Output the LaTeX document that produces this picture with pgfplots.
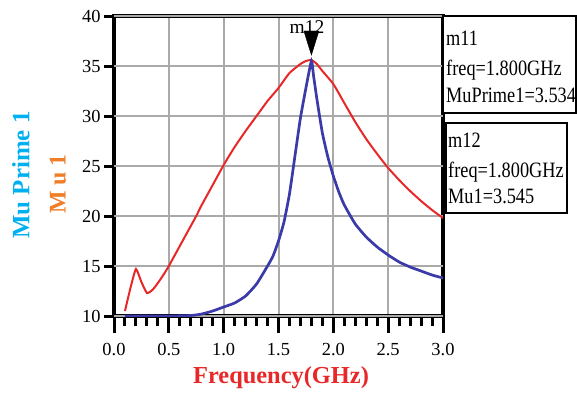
\documentclass[border=0pt]{standalone}
\usepackage{pgfplots}
\pgfplotsset{compat=1.18}
\usepackage{fontspec}
\setmainfont{Liberation Serif}
\usepackage{graphicx}
\definecolor{cRed}{RGB}{232,40,40}
\definecolor{cBlue}{RGB}{58,58,168}
\definecolor{cCyan}{RGB}{0,176,240}
\definecolor{cOrange}{RGB}{240,125,40}
\definecolor{cGrid}{RGB}{170,170,170}
\begin{document}
\begin{tikzpicture}[x=1bp,y=1bp]
\useasboundingbox (-114,-77) rectangle (463,316);
\begin{axis}[
  at={(0,0)}, anchor=south west,
  scale only axis, width=329bp, height=300bp,
  xmin=0, xmax=3, ymin=10, ymax=40,
  xtick={0,0.5,...,3}, minor x tick num=4,
  ytick=\empty,
  extra y ticks={10,15,20,25,30,35,40},
  extra y tick style={grid=major, major tick length=10bp},
  grid=major, major grid style={cGrid, line width=2bp},
  axis line style={black, line width=3.2bp},
  tick align=outside, tick pos=left,
  major tick length=17bp, minor tick length=10bp,
  every tick/.style={black, line width=3bp},
  /pgf/number format/assume math mode=true,
  xticklabel style={yshift=-7bp, /pgf/number format/.cd, fixed, fixed zerofill, precision=1},
  tick label style={font=\fontsize{18.5}{18.5}\selectfont, black},
  clip=true,
]
\addplot[cRed, line width=2bp, smooth, tension=0.3] coordinates {
(0.1,10.5) (0.15,12.8) (0.2,14.7) (0.25,13.4) (0.3,12.3) (0.35,12.6) (0.4,13.3)
(0.45,14.1) (0.5,15.0) (0.6,17.0) (0.7,19.0) (0.75,20.0) (0.8,21.1) (0.9,23.1)
(1.0,25.1) (1.1,26.9) (1.2,28.5) (1.3,30.0) (1.4,31.5) (1.5,32.8) (1.6,34.3)
(1.7,35.2) (1.75,35.5) (1.8,35.6) (1.85,35.2) (1.9,34.5) (2.0,33.2) (2.1,31.3)
(2.2,29.4) (2.3,27.7) (2.4,26.2) (2.5,24.8) (2.6,23.6) (2.7,22.5) (2.8,21.5)
(2.9,20.6) (3.0,19.8)};
\addplot[cBlue, line width=2.7bp, smooth, tension=0.3] coordinates {
(0.1,10.0) (0.3,10.0) (0.5,10.0) (0.7,10.05) (0.8,10.2) (0.9,10.5) (1.0,10.9)
(1.1,11.3) (1.2,12.0) (1.3,13.2) (1.4,15.0) (1.45,16.0) (1.5,17.5) (1.55,19.4)
(1.6,22.2) (1.65,26.0) (1.7,29.8) (1.75,32.8) (1.8,35.5) (1.82,34.0) (1.85,31.7)
(1.9,28.3) (1.95,25.9) (2.0,24.0) (2.05,22.4) (2.1,21.1) (2.2,19.2) (2.3,17.9)
(2.4,16.9) (2.5,16.1) (2.6,15.4) (2.7,14.9) (2.8,14.5) (2.9,14.1) (3.0,13.8)};
\addplot[only marks, mark=triangle*, mark size=8.7bp,
  mark options={fill=black, draw=black, rotate=180, yscale=1.85}]
  coordinates {(1.8,37.7)};
\end{axis}
% axis labels
\node[rotate=90, text=cCyan, font=\bfseries\fontsize{25}{25}\selectfont] at (-93,141) {Mu Prime 1};
\node[rotate=90, text=cOrange, font=\bfseries\fontsize{24}{24}\selectfont] at (-56,132) {M u 1};
\node[text=cRed, font=\bfseries\fontsize{24.5}{24.5}\selectfont] at (167,-62) {Frequency(GHz)};
% marker label
\node[anchor=base, inner sep=0, font=\fontsize{19.5}{19.5}\selectfont] at (193,283) {m12};
% marker boxes
\draw[line width=2.8bp, fill=white] (329,300) rectangle (462,203);
\node[anchor=base west, inner sep=0, font=\fontsize{22}{22}\selectfont] at (332,271) {\scalebox{0.835}[1]{m11}};
\node[anchor=base west, inner sep=0, font=\fontsize{22}{22}\selectfont] at (332,241) {\scalebox{0.835}[1]{freq=1.800GHz}};
\node[anchor=base west, inner sep=0, font=\fontsize{22}{22}\selectfont] at (332,214) {\scalebox{0.835}[1]{MuPrime1=3.534}};
\draw[line width=2.8bp, fill=white] (332,193) rectangle (453,103);
\node[anchor=base west, inner sep=0, font=\fontsize{22}{22}\selectfont] at (334,169) {\scalebox{0.835}[1]{m12}};
\node[anchor=base west, inner sep=0, font=\fontsize{22}{22}\selectfont] at (334,139) {\scalebox{0.835}[1]{freq=1.800GHz}};
\node[anchor=base west, inner sep=0, font=\fontsize{22}{22}\selectfont] at (334,113) {\scalebox{0.835}[1]{Mu1=3.545}};
\end{tikzpicture}
\end{document}
